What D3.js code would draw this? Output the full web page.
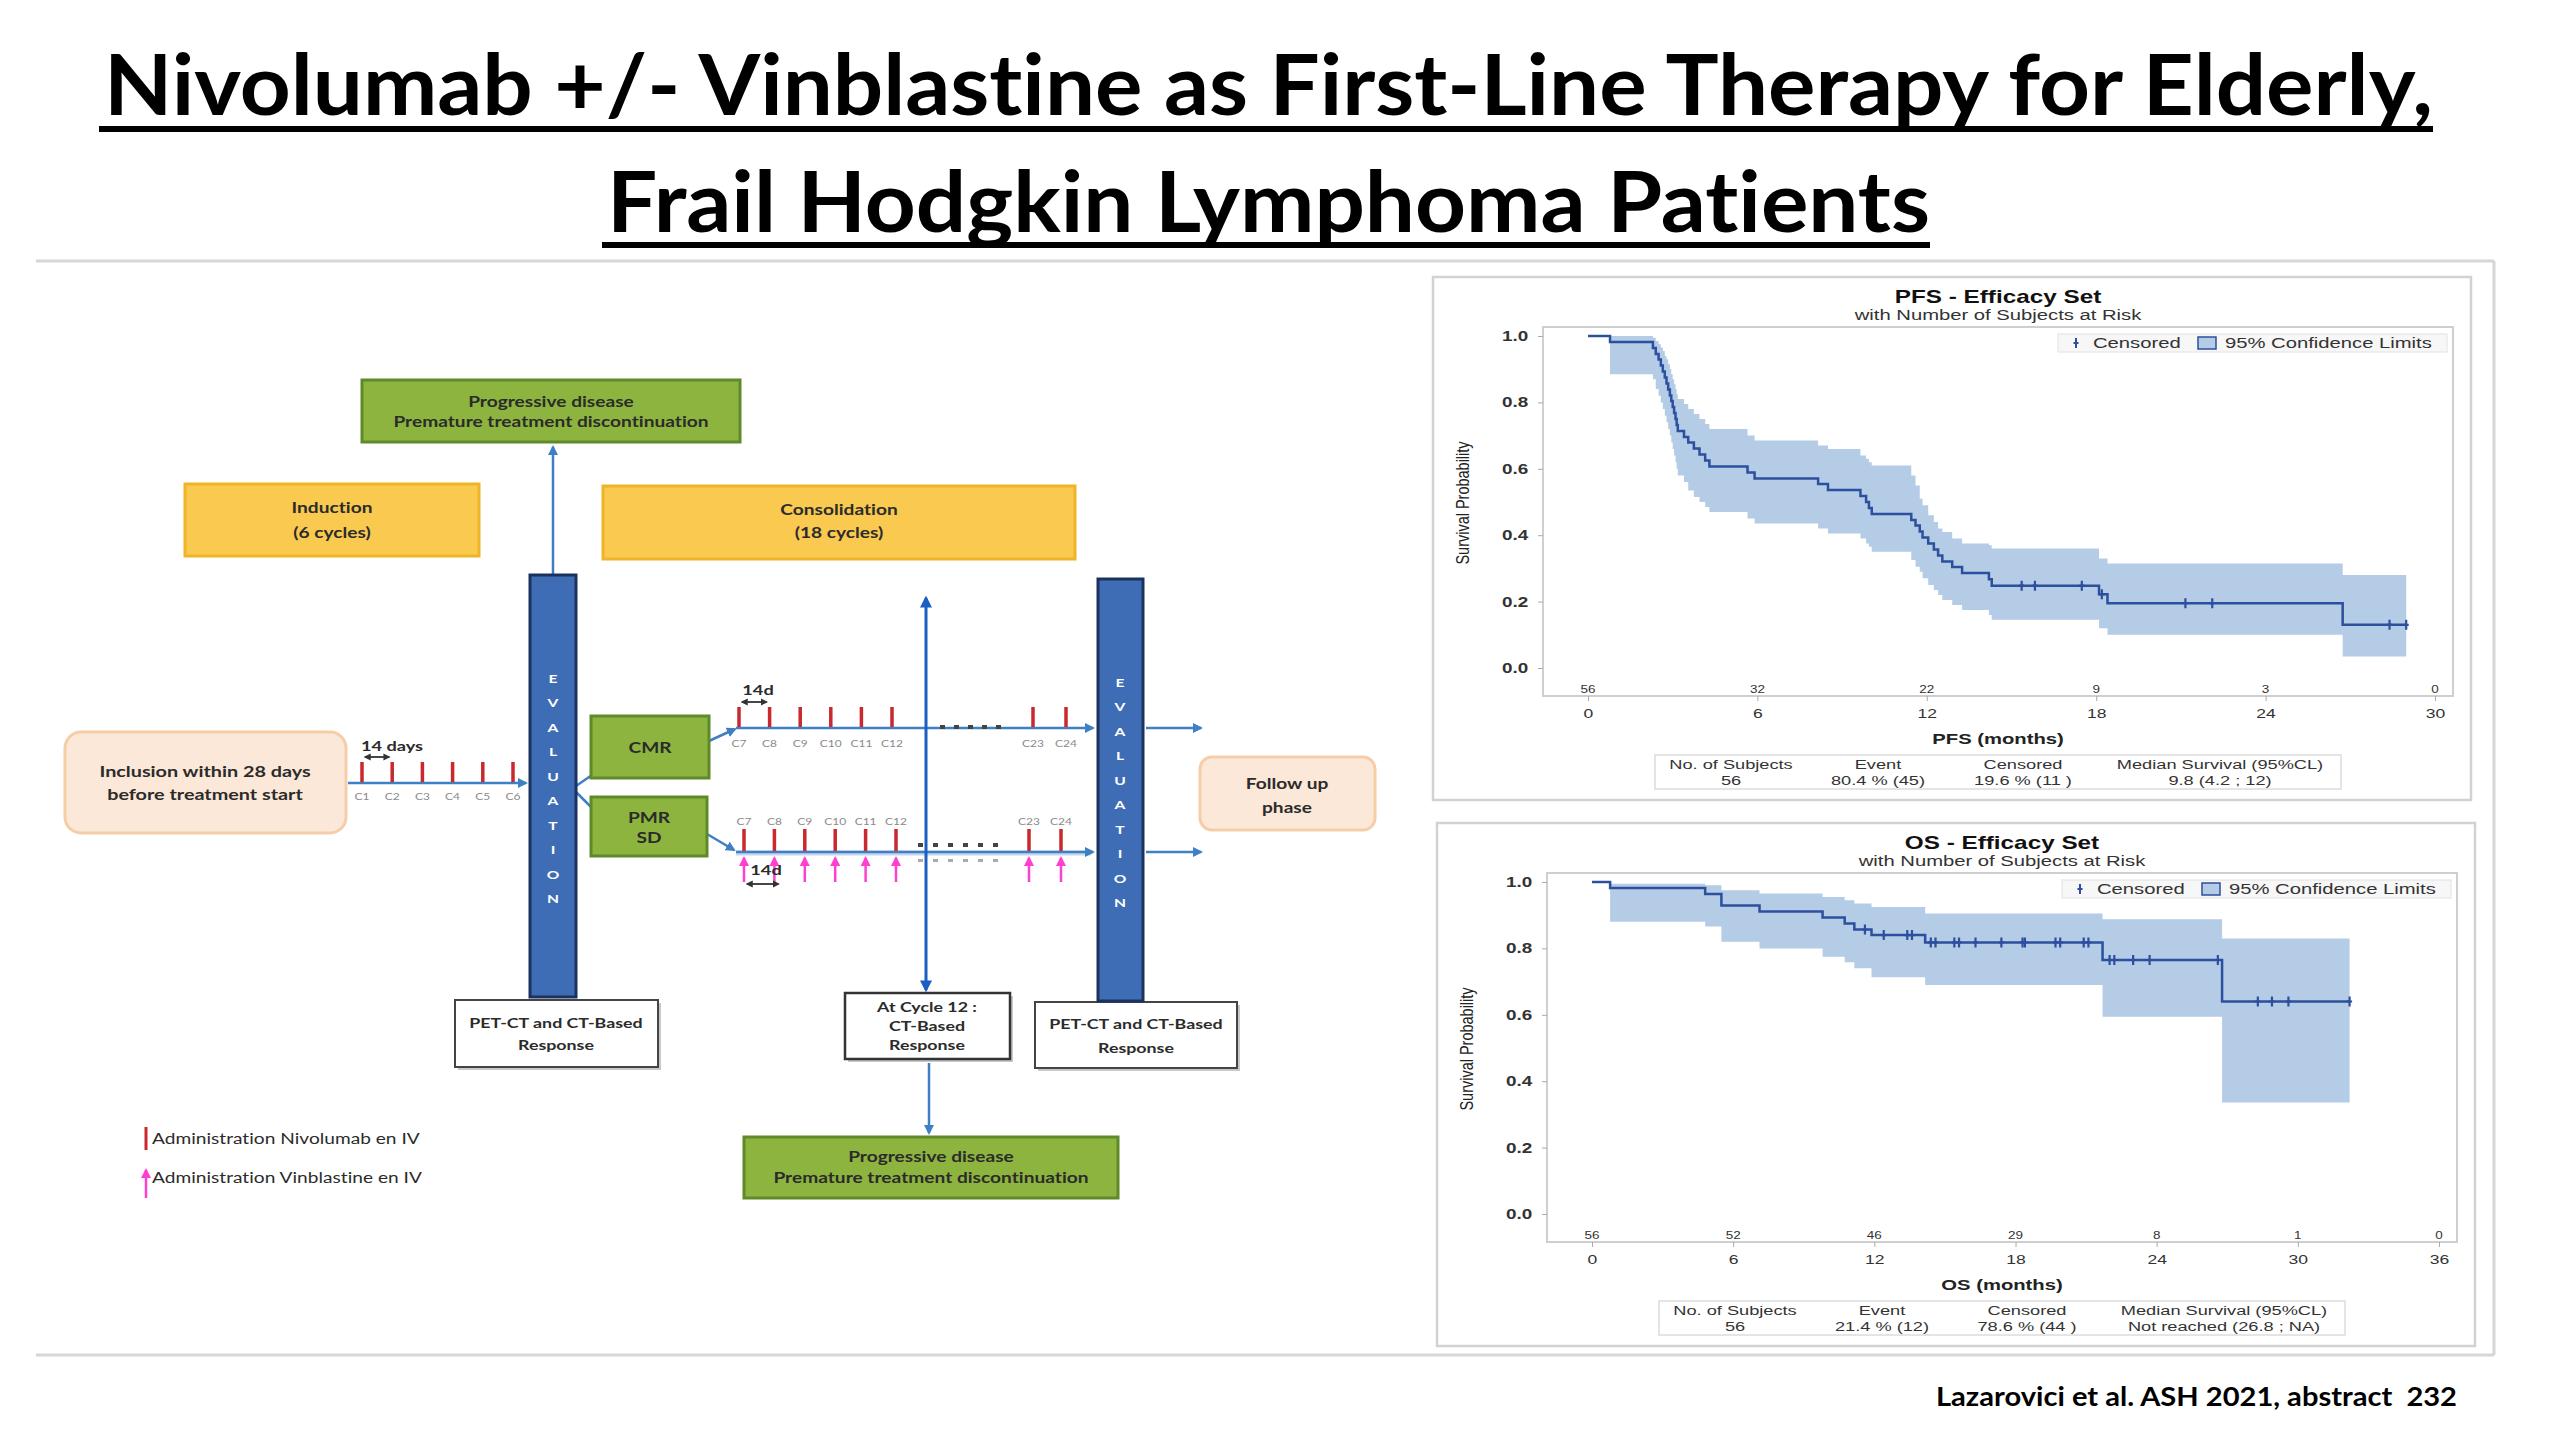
<!DOCTYPE html>
<html>
<head>
<meta charset="utf-8">
<title>Nivolumab +/- Vinblastine - Elderly Hodgkin Lymphoma</title>
<script src="https://cdn.jsdelivr.net/npm/d3@7/dist/d3.min.js"></script>
<style>
  body { margin: 0; background: #fff; }
  svg { display: block; }
  text { font-variant-ligatures: none; }
</style>
</head>
<body>
<script>
// slide text
var titleLines = ["Nivolumab +/- Vinblastine as First-Line Therapy for Elderly,", "Frail Hodgkin Lymphoma Patients"];
var footerText = "Lazarovici et al. ASH 2021, abstract  232";

// PFS curve (months, survival)
var pfsTime  = [0, 0.78, 2.30, 2.40, 2.50, 2.58, 2.65, 2.72, 2.78, 2.84, 2.90, 2.95, 3.00, 3.05, 3.10, 3.14, 3.18, 3.40, 3.55, 3.75, 3.95, 4.15, 4.30, 5.65, 5.90, 8.15, 8.50, 9.65, 9.85, 9.95, 10.05, 11.45, 11.60, 11.75, 11.85, 12.05, 12.25, 12.40, 12.55, 12.90, 13.25, 14.20, 14.30, 18.10, 18.40, 26.73];
var pfsSurv  = [1.0, 0.982, 0.964, 0.946, 0.929, 0.911, 0.893, 0.875, 0.857, 0.839, 0.821, 0.804, 0.786, 0.768, 0.750, 0.732, 0.714, 0.696, 0.679, 0.661, 0.643, 0.625, 0.607, 0.589, 0.571, 0.554, 0.536, 0.518, 0.500, 0.482, 0.464, 0.446, 0.429, 0.411, 0.393, 0.375, 0.357, 0.339, 0.321, 0.304, 0.286, 0.267, 0.248, 0.222, 0.195, 0.130];
var pfsUpper = [1.0, 1.0, 0.995, 0.985, 0.975, 0.965, 0.955, 0.94, 0.93, 0.915, 0.90, 0.885, 0.87, 0.855, 0.84, 0.825, 0.81, 0.795, 0.78, 0.765, 0.75, 0.735, 0.72, 0.70, 0.685, 0.67, 0.66, 0.64, 0.63, 0.62, 0.61, 0.58, 0.55, 0.51, 0.49, 0.46, 0.44, 0.42, 0.41, 0.39, 0.375, 0.37, 0.36, 0.33, 0.315, 0.28];
var pfsLower = [1.0, 0.885, 0.87, 0.84, 0.82, 0.80, 0.78, 0.76, 0.74, 0.72, 0.70, 0.68, 0.66, 0.64, 0.62, 0.60, 0.58, 0.56, 0.535, 0.515, 0.50, 0.485, 0.47, 0.45, 0.435, 0.42, 0.405, 0.39, 0.375, 0.365, 0.35, 0.325, 0.305, 0.29, 0.27, 0.25, 0.235, 0.22, 0.205, 0.19, 0.175, 0.16, 0.145, 0.12, 0.10, 0.035];
var pfsEnd = 28.98;
var pfsCensored = [15.36, 15.83, 17.49, 18.2, 21.16, 22.11, 28.39, 28.98];
var pfsRiskTimes = [0, 6, 12, 18, 24, 30];
var pfsAtRisk = [56, 32, 22, 9, 3, 0];
var pfsStats = ["56", "80.4 % (45)", "19.6 % (11 )", "9.8 (4.2 ; 12)"];

// OS curve
var osTime  = [0, 0.77, 4.81, 5.50, 7.12, 9.80, 10.74, 11.15, 11.88, 14.16, 21.70, 26.78];
var osSurv  = [1.0, 0.982, 0.964, 0.929, 0.911, 0.893, 0.875, 0.857, 0.840, 0.818, 0.765, 0.640];
var osUpper = [1.0, 0.995, 0.99, 0.975, 0.965, 0.955, 0.945, 0.935, 0.925, 0.905, 0.888, 0.83];
var osLower = [1.0, 0.88, 0.866, 0.82, 0.80, 0.775, 0.758, 0.74, 0.713, 0.69, 0.594, 0.336];
var osEnd = 32.2;
var osCensored = [11.6, 12.4, 13.4, 13.6, 14.4, 14.6, 15.4, 15.6, 16.3, 17.4, 18.3, 18.4, 19.7, 19.9, 20.9, 21.1, 22.0, 22.2, 23.0, 23.7, 26.6, 28.3, 28.9, 29.6, 32.2];
var osRiskTimes = [0, 6, 12, 18, 24, 30, 36];
var osAtRisk = [56, 52, 46, 29, 8, 1, 0];
var osStats = ["56", "21.4 % (12)", "78.6 % (44 )", "Not reached (26.8 ; NA)"];

var yTicks = [0, 0.2, 0.4, 0.6, 0.8, 1.0];
var statHeaders = ["No. of Subjects", "Event", "Censored", "Median Survival (95%CL)"];

// study design cycles
var inductionCycles = [1, 2, 3, 4, 5, 6];
var consolidationCycles = [7, 8, 9, 10, 11, 12, 23, 24];

var svg = d3.select("body").append("svg")
  .attr("width", 2560)
  .attr("height", 1440);

svg.append("rect").attr("width", 2560).attr("height", 1440).attr("fill", "#fff");

var defs = svg.append("defs");
function marker(id, color, size) {
  defs.append("marker")
    .attr("id", id)
    .attr("viewBox", "0 0 10 10")
    .attr("refX", 8).attr("refY", 5)
    .attr("markerWidth", size).attr("markerHeight", size)
    .attr("orient", "auto-start-reverse")
    .append("path").attr("d", "M0,0L10,5L0,10z").attr("fill", color);
}
marker("arrBlue", "#3f7fc4", 4);
marker("arrDark", "#1c5fc4", 4);
marker("arrPink", "#ff3fd0", 4);
marker("arrGrey", "#333", 4);

// text helper: centred text, stretched horizontally like the slide
function label(g, x, y, str, size, o) {
  o = o || {};
  return g.append("text")
    .attr("transform", "translate(" + x + "," + y + ") scale(" + (o.sx || 1) + ",1)")
    .attr("text-anchor", o.anchor || "middle")
    .attr("dominant-baseline", "central")
    .attr("font-family", o.font || "'Liberation Sans', Arial, sans-serif")
    .attr("font-size", size)
    .attr("font-weight", o.weight || "normal")
    .attr("fill", o.fill || "#222")
    .style("white-space", "pre")
    .text(str);
}

// ---------- title ----------
var titleX = [104, 607], titleBase = [115, 232], titleW = [2329, 1323], ulY = [126, 242];
titleLines.forEach(function(t, i) {
  svg.append("text")
    .attr("x", titleX[i]).attr("y", titleBase[i])
    .attr("font-family", "Lato, 'Open Sans', sans-serif")
    .attr("font-weight", 700)
    .attr("font-size", 85)
    .attr("textLength", titleW[i])
    .attr("lengthAdjust", "spacingAndGlyphs")
    .attr("fill", "#000")
    .text(t);
  svg.append("rect")
    .attr("x", titleX[i] - 5).attr("y", ulY[i])
    .attr("width", titleW[i] + 5).attr("height", 6)
    .attr("fill", "#000");
});

// content frame
var frameCol = "#d6d6d6";
svg.append("line").attr("x1", 36).attr("x2", 2494).attr("y1", 261).attr("y2", 261).attr("stroke", frameCol).attr("stroke-width", 3);
svg.append("line").attr("x1", 36).attr("x2", 2494).attr("y1", 1355).attr("y2", 1355).attr("stroke", frameCol).attr("stroke-width", 3);
svg.append("line").attr("x1", 2494).attr("x2", 2494).attr("y1", 261).attr("y2", 1355).attr("stroke", frameCol).attr("stroke-width", 3);

// footer
svg.append("text")
  .attr("x", 1936).attr("y", 1406)
  .attr("font-family", "Lato, 'Open Sans', sans-serif")
  .attr("font-weight", 700)
  .attr("font-size", 27)
  .attr("textLength", 521)
  .attr("lengthAdjust", "spacingAndGlyphs")
  .style("white-space", "pre")
  .attr("fill", "#000")
  .text(footerText);

// ---------- Kaplan-Meier panels ----------
var kmSx = 1.35;
var bandColor = "#b5cce7";
var curveColor = "#2c4f9e";

function drawKM(dx, dy, k) {
  var g = svg.append("g");
  var left = 1543 + dx, right = 2453 + dx, top = 327 + dy, bottom = 696 + dy;

  var x = d3.scaleLinear().domain([0, k.xMax]).range([1588 + dx, 2435 + dx]);
  var y = d3.scaleLinear().domain([0, 1]).range([668 + dy, 336 + dy]);

  g.append("rect")
    .attr("x", 1433 + dx).attr("y", 277 + dy)
    .attr("width", 1038).attr("height", 523)
    .attr("fill", "#fff").attr("stroke", "#d2d2d2").attr("stroke-width", 2.5);

  label(g, 1998 + dx, 297 + dy, k.title, 18, {weight: "bold", sx: kmSx, fill: "#111"});
  label(g, 1998 + dx, 315 + dy, "with Number of Subjects at Risk", 15, {sx: kmSx, fill: "#333"});

  g.append("rect")
    .attr("x", left).attr("y", top)
    .attr("width", right - left).attr("height", bottom - top)
    .attr("fill", "none").attr("stroke", "#cfcfcf").attr("stroke-width", 2);

  var pts = k.time.map(function(t, i) {
    return {t: t, s: k.surv[i], u: k.upper[i], l: k.lower[i]};
  });
  var last = pts[pts.length - 1];
  pts.push({t: k.end, s: last.s, u: last.u, l: last.l});

  g.append("path").datum(pts)
    .attr("d", d3.area().curve(d3.curveStepAfter)
      .x(function(d) { return x(d.t); })
      .y0(function(d) { return y(d.l); })
      .y1(function(d) { return y(d.u); }))
    .attr("fill", bandColor);

  g.append("path").datum(pts)
    .attr("d", d3.line().curve(d3.curveStepAfter)
      .x(function(d) { return x(d.t); })
      .y(function(d) { return y(d.s); }))
    .attr("fill", "none")
    .attr("stroke", curveColor)
    .attr("stroke-width", 2.5);

  // censored marks
  g.selectAll(".cens").data(k.censored).join("path")
    .attr("class", "cens")
    .attr("d", function(t) {
      var i = d3.bisectRight(k.time, t) - 1;
      var cx = x(t), cy = y(k.surv[i]);
      return "M" + cx + "," + (cy - 5) + "V" + (cy + 5) + "M" + (cx - 2.5) + "," + cy + "H" + (cx + 2.5);
    })
    .attr("stroke", curveColor)
    .attr("stroke-width", 2.2);

  // y axis
  var ya = g.append("g")
    .attr("transform", "translate(" + left + ",0)")
    .call(d3.axisLeft(y).tickValues(yTicks).tickFormat(d3.format(".1f")).tickSize(5).tickPadding(6));
  ya.select(".domain").remove();
  ya.selectAll("line").attr("stroke", "#aaa");
  ya.selectAll("text")
    .attr("font-family", "'Liberation Sans', Arial, sans-serif")
    .attr("font-size", 14).attr("font-weight", "bold").attr("fill", "#333")
    .attr("transform", "scale(" + kmSx + ",1)");

  // x axis
  var xa = g.append("g")
    .attr("transform", "translate(0," + bottom + ")")
    .call(d3.axisBottom(x).tickValues(k.riskTimes).tickSize(5).tickPadding(8));
  xa.select(".domain").remove();
  xa.selectAll("line").attr("stroke", "#aaa");
  xa.selectAll("text")
    .attr("font-family", "'Liberation Sans', Arial, sans-serif")
    .attr("font-size", 13).attr("fill", "#333")
    .attr("transform", "scale(" + kmSx + ",1)");

  // subjects at risk
  g.selectAll(".risk").data(k.riskTimes).join("text")
    .attr("class", "risk")
    .attr("transform", function(t) { return "translate(" + x(t) + "," + (bottom - 6) + ") scale(" + kmSx + ",1)"; })
    .attr("text-anchor", "middle")
    .attr("dominant-baseline", "central")
    .attr("font-family", "'Liberation Sans', Arial, sans-serif")
    .attr("font-size", 10)
    .attr("fill", "#333")
    .text(function(t, i) { return k.atRisk[i]; });

  label(g, 1998 + dx, 739 + dy, k.xLabel, 15, {weight: "bold", sx: kmSx, fill: "#222"});

  g.append("text")
    .attr("transform", "translate(" + (1463 + dx) + "," + (503 + dy) + ") rotate(-90) scale(1,1.3)")
    .attr("text-anchor", "middle")
    .attr("dominant-baseline", "central")
    .attr("font-family", "'Liberation Sans', Arial, sans-serif")
    .attr("font-size", 14.5)
    .attr("fill", "#222")
    .text("Survival Probability");

  // legend
  g.append("rect")
    .attr("x", 2058 + dx).attr("y", 334 + dy).attr("width", 389).attr("height", 18)
    .attr("fill", "#f7f7f7").attr("stroke", "#e2e2e2");
  g.append("path")
    .attr("d", "M" + (2076 + dx) + "," + (338 + dy) + "V" + (348 + dy) + "M" + (2073.5 + dx) + "," + (343 + dy) + "H" + (2078.5 + dx))
    .attr("stroke", curveColor).attr("stroke-width", 2);
  label(g, 2093 + dx, 343 + dy, "Censored", 15, {anchor: "start", sx: kmSx, fill: "#333"});
  g.append("rect")
    .attr("x", 2198 + dx).attr("y", 337 + dy).attr("width", 18).attr("height", 12)
    .attr("fill", bandColor).attr("stroke", curveColor).attr("stroke-width", 1.5);
  label(g, 2225 + dx, 343 + dy, "95% Confidence Limits", 15, {anchor: "start", sx: kmSx, fill: "#333"});

  // statistics box
  var colX = [1731, 1878, 2023, 2220];
  g.append("rect")
    .attr("x", 1655 + dx).attr("y", 755 + dy).attr("width", 686).attr("height", 34)
    .attr("fill", "none").attr("stroke", "#dcdcdc").attr("stroke-width", 1.5);
  statHeaders.forEach(function(h, i) {
    label(g, colX[i] + dx, 764 + dy, h, 13.5, {sx: kmSx, fill: "#333"});
    label(g, colX[i] + dx, 780 + dy, k.stats[i], 13.5, {sx: kmSx, fill: "#333"});
  });
}

drawKM(0, 0, {
  title: "PFS - Efficacy Set", xLabel: "PFS (months)", xMax: 30,
  time: pfsTime, surv: pfsSurv, upper: pfsUpper, lower: pfsLower, end: pfsEnd,
  censored: pfsCensored, riskTimes: pfsRiskTimes, atRisk: pfsAtRisk, stats: pfsStats
});
drawKM(4, 546, {
  title: "OS - Efficacy Set", xLabel: "OS (months)", xMax: 36,
  time: osTime, surv: osSurv, upper: osUpper, lower: osLower, end: osEnd,
  censored: osCensored, riskTimes: osRiskTimes, atRisk: osAtRisk, stats: osStats
});

// ---------- study design diagram ----------
var dg = svg.append("g");
var diaFont = "Lato, 'Open Sans', sans-serif";
var diaSx = 1.32;
var green = "#8db43e", greenEdge = "#5f8a2a";
var yellow = "#f9c950", yellowEdge = "#f0b428";
var peach = "#fce8d8", peachEdge = "#f5cda9";
var evalBlue = "#3e6db5", evalEdge = "#1c325e";
var lineBlue = "#3f7fc4";
var red = "#c8282e", pink = "#ff3fd0";

function box(x, y, w, h, fill, stroke, sw, rx, lines, cx, cy, step, size) {
  dg.append("rect")
    .attr("x", x).attr("y", y).attr("width", w).attr("height", h)
    .attr("rx", rx).attr("ry", rx)
    .attr("fill", fill).attr("stroke", stroke).attr("stroke-width", sw);
  lines.forEach(function(s, i) {
    label(dg, cx, cy + (i - (lines.length - 1) / 2) * step, s, size,
      {font: diaFont, weight: "bold", sx: diaSx, fill: "#2b2b2b"});
  });
}

function arrow(x1, y1, x2, y2, color, width, mEnd, mStart) {
  var l = dg.append("line")
    .attr("x1", x1).attr("y1", y1).attr("x2", x2).attr("y2", y2)
    .attr("stroke", color).attr("stroke-width", width);
  if (mEnd) l.attr("marker-end", "url(#" + mEnd + ")");
  if (mStart) l.attr("marker-start", "url(#" + mStart + ")");
  return l;
}

// connectors behind boxes
arrow(553, 575, 553, 447, lineBlue, 2.5, "arrBlue");
arrow(348, 783, 526, 783, lineBlue, 2.5, "arrBlue");
arrow(576, 786, 592, 775, lineBlue, 2.5);
arrow(576, 792, 592, 808, lineBlue, 2.5);
arrow(709, 741, 735, 729, lineBlue, 2.5, "arrBlue");
arrow(736, 728, 1093, 728, lineBlue, 2.5, "arrBlue");
arrow(1146, 728, 1201, 728, lineBlue, 2.5, "arrBlue");
arrow(707, 834, 734, 850, lineBlue, 2.5, "arrBlue");
arrow(736, 853, 1091, 853, "#c7d6ea", 5);
arrow(736, 852, 1093, 852, lineBlue, 2.5, "arrBlue");
arrow(1146, 852, 1201, 852, lineBlue, 2.5, "arrBlue");
arrow(926, 990, 926, 598, "#1c5fc4", 3, "arrDark", "arrDark");
arrow(929, 1063, 929, 1133, lineBlue, 2.5, "arrBlue");

box(362, 380, 378, 62, green, greenEdge, 3, 0, ["Progressive disease", "Premature treatment discontinuation"], 551, 411, 20, 14.5);
box(185, 484, 294, 72, yellow, yellowEdge, 3, 0, ["Induction", "(6 cycles)"], 332, 520, 25, 14.5);
box(603, 486, 472, 73, yellow, yellowEdge, 3, 0, ["Consolidation", "(18 cycles)"], 839, 521, 23, 14.5);
box(65, 732, 281, 101, peach, peachEdge, 3, 16, ["Inclusion within 28 days", "before treatment start"], 205, 783, 23, 15);
box(1200, 757, 175, 73, peach, peachEdge, 3, 12, ["Follow up", "phase"], 1287, 795, 24, 14.5);
box(591, 716, 118, 62, green, greenEdge, 3, 0, ["CMR"], 650, 747, 20, 14.5);
box(591, 797, 116, 59, green, greenEdge, 3, 0, ["PMR", "SD"], 649, 827, 20, 14.5);

// response boxes with a soft shadow
[[455, 1000, 203, 67], [845, 993, 165, 66], [1035, 1002, 202, 66]].forEach(function(b) {
  dg.append("rect").attr("x", b[0] + 3).attr("y", b[1] + 3).attr("width", b[2]).attr("height", b[3]).attr("fill", "#c8c8c8");
});
box(455, 1000, 203, 67, "#fff", "#444", 2, 0, ["PET-CT and CT-Based", "Response"], 556, 1033, 22, 13.5);
box(845, 993, 165, 66, "#fff", "#333", 2.5, 0, ["At Cycle 12 :", "CT-Based", "Response"], 927, 1025, 19, 13.5);
box(1035, 1002, 202, 66, "#fff", "#444", 2, 0, ["PET-CT and CT-Based", "Response"], 1136, 1035, 24, 13.5);
box(744, 1137, 374, 61, green, greenEdge, 3, 0, ["Progressive disease", "Premature treatment discontinuation"], 931, 1167, 21, 14.5);

// evaluation bars
[[530, 575, 46, 422, 553, 678], [1098, 579, 45, 422, 1120, 682]].forEach(function(b) {
  dg.append("rect")
    .attr("x", b[0]).attr("y", b[1]).attr("width", b[2]).attr("height", b[3])
    .attr("fill", evalBlue).attr("stroke", evalEdge).attr("stroke-width", 3);
  "EVALUATION".split("").forEach(function(ch, i) {
    label(dg, b[4], b[5] + i * 24.5, ch, 12, {font: diaFont, weight: "bold", sx: 1.3, fill: "#fff"});
  });
});

// cycle scales
var xInduction = d3.scaleLinear().domain([1, 6]).range([362, 513]);
var xCons1 = d3.scaleLinear().domain([7, 12, 23, 24]).range([739, 892, 1033, 1066]);
var xCons2 = d3.scaleLinear().domain([7, 12, 23, 24]).range([744, 896, 1029, 1061]);

dg.selectAll(".indTick").data(inductionCycles).join("line")
  .attr("class", "indTick")
  .attr("x1", xInduction).attr("x2", xInduction)
  .attr("y1", 762).attr("y2", 782)
  .attr("stroke", red).attr("stroke-width", 3.5);
inductionCycles.forEach(function(c) {
  label(dg, xInduction(c), 796, "C" + c, 10, {font: diaFont, sx: 1.2, fill: "#8a8a8a"});
});

dg.selectAll(".c1Tick").data(consolidationCycles).join("line")
  .attr("class", "c1Tick")
  .attr("x1", xCons1).attr("x2", xCons1)
  .attr("y1", 707).attr("y2", 727)
  .attr("stroke", red).attr("stroke-width", 3.5);
consolidationCycles.forEach(function(c) {
  label(dg, xCons1(c), 743, "C" + c, 10, {font: diaFont, sx: 1.2, fill: "#8a8a8a"});
});

dg.selectAll(".c2Tick").data(consolidationCycles).join("line")
  .attr("class", "c2Tick")
  .attr("x1", xCons2).attr("x2", xCons2)
  .attr("y1", 829).attr("y2", 851)
  .attr("stroke", red).attr("stroke-width", 3.5);
dg.selectAll(".vinArrow").data(consolidationCycles).join("line")
  .attr("class", "vinArrow")
  .attr("x1", xCons2).attr("x2", xCons2)
  .attr("y1", 882).attr("y2", 858)
  .attr("stroke", pink).attr("stroke-width", 2.5)
  .attr("marker-end", "url(#arrPink)");
consolidationCycles.forEach(function(c) {
  label(dg, xCons2(c), 821, "C" + c, 10, {font: diaFont, sx: 1.2, fill: "#8a8a8a"});
});

// gap dots
d3.range(940, 1000, 14).forEach(function(px) {
  dg.append("rect").attr("x", px).attr("y", 725).attr("width", 5).attr("height", 4).attr("fill", "#444");
});
d3.range(918, 1006, 15).forEach(function(px) {
  dg.append("rect").attr("x", px).attr("y", 843).attr("width", 5).attr("height", 4).attr("fill", "#444");
  dg.append("rect").attr("x", px).attr("y", 859).attr("width", 5).attr("height", 3).attr("fill", "#aaa");
});

// 14 day spacing marks
label(dg, 392, 745, "14 days", 14, {font: diaFont, weight: "bold", sx: 1.3, fill: "#2b2b2b"});
arrow(xInduction(1) + 3, 757, xInduction(2) - 3, 757, "#333", 1.8, "arrGrey", "arrGrey");
label(dg, 758, 689, "14d", 14, {font: diaFont, weight: "bold", sx: 1.3, fill: "#2b2b2b"});
arrow(xCons1(7) + 3, 702, xCons1(8) - 3, 702, "#333", 1.8, "arrGrey", "arrGrey");
label(dg, 766, 869, "14d", 14, {font: diaFont, weight: "bold", sx: 1.3, fill: "#2b2b2b"});
arrow(xCons2(7) + 3, 884, xCons2(8) + 4, 884, "#333", 1.8, "arrGrey", "arrGrey");

// legend
arrow(146, 1127, 146, 1150, red, 3);
label(dg, 152, 1138, "Administration Nivolumab en IV", 14.5, {font: diaFont, anchor: "start", sx: 1.32, fill: "#2b2b2b"});
arrow(146, 1198, 146, 1170, pink, 2.5, "arrPink");
label(dg, 152, 1177, "Administration Vinblastine en IV", 14.5, {font: diaFont, anchor: "start", sx: 1.32, fill: "#2b2b2b"});
</script>
</body>
</html>
